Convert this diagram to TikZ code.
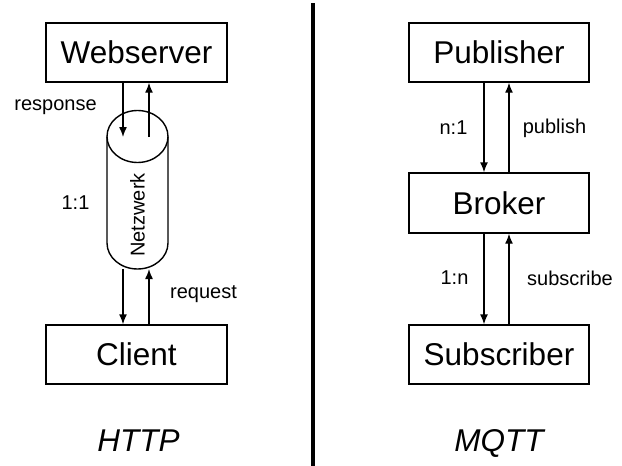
\documentclass[tikz,border=0pt]{standalone}
\usepackage{fontspec}
\setmainfont{Liberation Sans}
\usetikzlibrary{arrows.meta}
\begin{document}
\begin{tikzpicture}[x=1pt,y=-1pt,
  box/.style={draw=black,line width=1.4pt,minimum height=59pt,inner sep=0pt,font=\fontsize{31.5}{37}\selectfont},
  lbl/.style={font=\fontsize{20}{24}\selectfont,inner sep=0pt},
  ttl/.style={font=\fontsize{31.5}{37}\selectfont\itshape,inner sep=0pt},
  arr/.style={line width=1.4pt,-{Latex[length=10pt,width=8pt]}},
  cyl/.style={line width=1.4pt}]
\useasboundingbox (0,0) rectangle (622,466);
% divider
\draw[line width=4.5pt] (313,3) -- (313,466);
% HTTP side
\node[box,minimum width=181pt] (web) at (136.5,52.5) {Webserver};
\node[box,minimum width=181pt] (client) at (136.5,354.5) {Client};
\draw[cyl,fill=white] (107,136.5) -- (107,243) arc[start angle=180,end angle=0,x radius=30.5,y radius=26] -- (168,136.5);
\draw[cyl] (137.5,136.5) ellipse[x radius=30.5,y radius=26];
\coordinate (cyltop) at (137.5,137);
\coordinate (cylbot) at (137.5,269);
\node[lbl,rotate=90] (net) at (137.5,215) {Netzwerk};
\draw[arr] ([xshift=-13.5pt]web.south) -- ([xshift=-14.5pt]cyltop);
\draw[arr] ([xshift=11.5pt]cyltop) -- ([xshift=12.5pt]web.south);
\draw[arr] ([xshift=-14.5pt]cylbot) -- ([xshift=-13.5pt]client.north);
\draw[arr] ([xshift=12.5pt]client.north) -- ([xshift=11.5pt]cylbot);
\node[lbl] (resp) at (55.5,107) {response};
\node[lbl] (oneone) at (75.5,203) {1:1};
\node[lbl] (req) at (203.5,294) {request};
\node[ttl] (http) at (138.5,441) {HTTP};
% MQTT side
\node[box,minimum width=180pt] (pub) at (499,52.5) {Publisher};
\node[box,minimum width=180pt,minimum height=60pt] (broker) at (499,203) {Broker};
\node[box,minimum width=180pt] (sub) at (499,354.5) {Subscriber};
\draw[arr] ([xshift=-15pt]pub.south) -- ([xshift=-15pt]broker.north);
\draw[arr] ([xshift=10pt]broker.north) -- ([xshift=10pt]pub.south);
\draw[arr] ([xshift=-15pt]broker.south) -- ([xshift=-15pt]sub.north);
\draw[arr] ([xshift=10pt]sub.north) -- ([xshift=10pt]broker.south);
\node[lbl] (n1) at (453.5,128) {n:1};
\node[lbl] (publish) at (554.5,128) {publish};
\node[lbl] (onen) at (454.5,278) {1:n};
\node[lbl] (subscribe) at (570,278) {subscribe};
\node[ttl] (mqtt) at (499,443) {MQTT};
\end{tikzpicture}
\end{document}
